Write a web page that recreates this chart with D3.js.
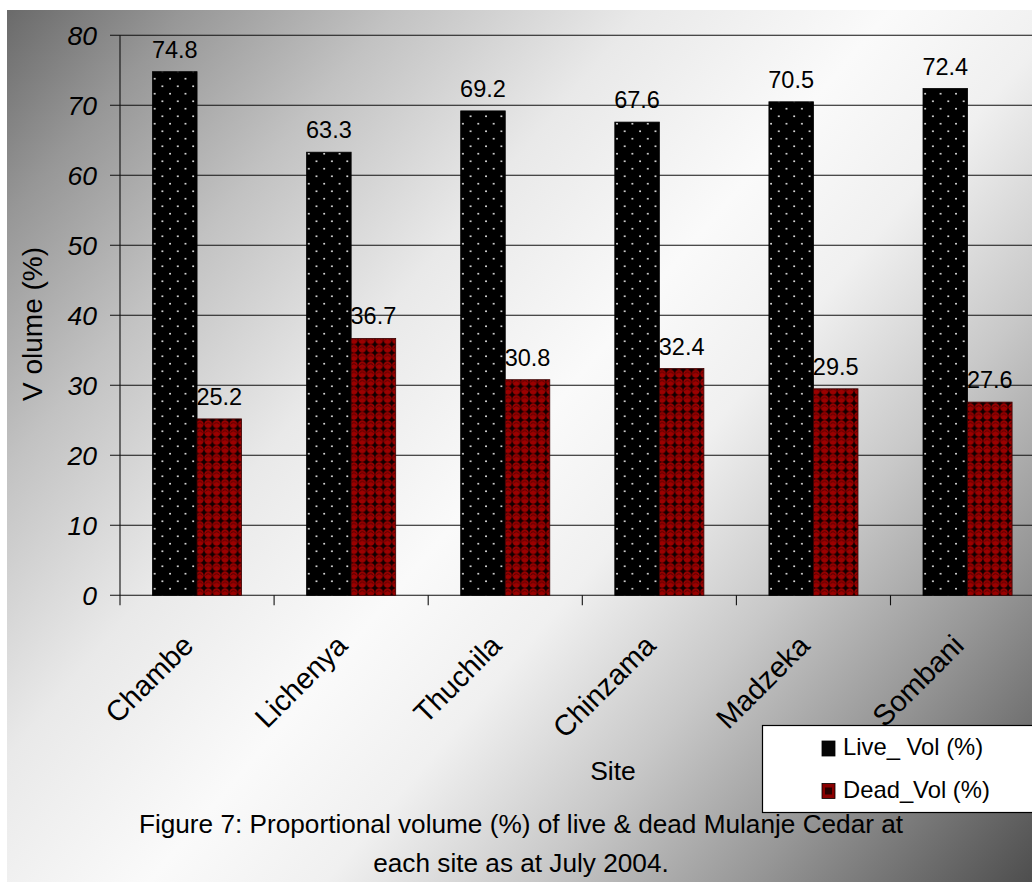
<!DOCTYPE html>
<html>
<head>
<meta charset="utf-8">
<script src="https://cdn.jsdelivr.net/npm/d3@7"></script>
<style>
  html, body { margin: 0; padding: 0; background: #fff; overflow: hidden; }
  svg { display: block; }
</style>
</head>
<body>
<svg id="chart" width="1032" height="882"></svg>
<script>
// Proportional volume (%) of live and dead Mulanje Cedar per site, July 2004
const sites = ["Chambe", "Lichenya", "Thuchila", "Chinzama", "Madzeka", "Sombani"];
const liveVol = [74.8, 63.3, 69.2, 67.6, 70.5, 72.4];
const deadVol = [25.2, 36.7, 30.8, 32.4, 29.5, 27.6];
const seriesKeys = ["live", "dead"];
const seriesNames = ["Live_ Vol (%)", "Dead_Vol (%)"];
const yTicks = [0, 10, 20, 30, 40, 50, 60, 70, 80];
const yTitle = "V olume (%)";
const xTitle = "Site";
const captionLines = [
  "Figure 7: Proportional volume (%) of live & dead Mulanje Cedar at",
  "each site as at July 2004."
];

const rows = sites.map((s, i) => ({ site: s, live: liveVol[i], dead: deadVol[i] }));

const W = 1032, H = 882;
const FONT = "'Liberation Sans', Arial, sans-serif";
const svg = d3.select("#chart");
const defs = svg.append("defs");

// Diagonal grey-white-grey background
const bg = defs.append("linearGradient")
  .attr("id", "bgGrad")
  .attr("gradientUnits", "userSpaceOnUse")
  .attr("x1", 7).attr("y1", 10).attr("x2", W).attr("y2", H);
[[0, "#6a6a6a"], [0.1, "#979797"], [0.22, "#c2c2c2"], [0.36, "#e9e9e9"],
 [0.5, "#fafafa"], [0.6, "#f0f0f0"], [0.72, "#c8c8c8"], [0.84, "#979797"], [1, "#4e4e4e"]]
  .forEach(([o, c]) => bg.append("stop").attr("offset", o).attr("stop-color", c));

svg.append("rect")
  .attr("x", 7).attr("y", 10).attr("width", W - 7).attr("height", H - 10)
  .attr("fill", "url(#bgGrad)");

// Black bars with staggered white dots
const pLive = defs.append("pattern")
  .attr("id", "patLive").attr("patternUnits", "userSpaceOnUse")
  .attr("width", 15.4).attr("height", 15);
pLive.append("rect").attr("width", 15.4).attr("height", 15).attr("fill", "#000");
pLive.append("circle").attr("cx", 3.9).attr("cy", 3.7).attr("r", 0.95).attr("fill", "#e6e6e6");
pLive.append("circle").attr("cx", 11.6).attr("cy", 11.2).attr("r", 0.95).attr("fill", "#e6e6e6");

// Dark red bars with a sphere / checker texture
const pDead = defs.append("pattern")
  .attr("id", "patDead").attr("patternUnits", "userSpaceOnUse")
  .attr("width", 8.4).attr("height", 8.4);
pDead.append("rect").attr("width", 8.4).attr("height", 8.4).attr("fill", "#120000");
pDead.append("circle").attr("cx", 4.2).attr("cy", 4.2).attr("r", 3.9).attr("fill", "#9c0000");
pDead.append("path")
  .attr("d", "M1.5,4.4 A2.9,2.9 0 0 1 6.9,4.4")
  .attr("fill", "none").attr("stroke", "#4a0000").attr("stroke-width", 0.9);

const fills = { live: "url(#patLive)", dead: "url(#patDead)" };
const swatch = { live: "#050505", dead: "#8a0000" };

// Scales
const step = 154.1;
const x0 = d3.scaleBand().domain(sites).range([120, 120 + step * sites.length]).padding(0);
const x1 = d3.scaleBand().domain(seriesKeys).range([0, x0.bandwidth()])
  .paddingInner(0).paddingOuter(0.73);
const y = d3.scaleLinear().domain([0, 80]).range([595.3, 35.3]);

const plot = svg.append("g");

// Horizontal gridlines with left tick marks
plot.selectAll("line.grid").data(yTicks).join("line")
  .attr("class", "grid")
  .attr("x1", 110).attr("x2", W + 20)
  .attr("y1", d => y(d)).attr("y2", d => y(d))
  .attr("stroke", "#111").attr("stroke-width", 1.1);

// Y tick labels (italic)
plot.selectAll("text.ytick").data(yTicks).join("text")
  .attr("class", "ytick")
  .attr("x", 97).attr("y", d => y(d) + 9.5)
  .attr("text-anchor", "end")
  .attr("font-family", FONT).attr("font-style", "italic").attr("font-size", 26.5)
  .attr("fill", "#000")
  .text(d => d);

// Bars
const groups = plot.selectAll("g.site").data(rows).join("g")
  .attr("class", "site")
  .attr("transform", d => `translate(${x0(d.site)},0)`);

groups.selectAll("rect").data(d => seriesKeys.map(k => ({ key: k, value: d[k] }))).join("rect")
  .attr("x", d => x1(d.key))
  .attr("width", x1.bandwidth())
  .attr("y", d => y(d.value))
  .attr("height", d => y(0) - y(d.value))
  .attr("fill", d => fills[d.key])
  .attr("stroke", d => d.key === "live" ? "#000" : "#3a0000")
  .attr("stroke-width", 0.8);

// Value labels
groups.selectAll("text.val").data(d => seriesKeys.map(k => ({ key: k, value: d[k] }))).join("text")
  .attr("class", "val")
  .attr("x", d => x1(d.key) + x1.bandwidth() / 2)
  .attr("y", d => y(d.value) - 14)
  .attr("text-anchor", "middle")
  .attr("font-family", FONT).attr("font-size", 23.5)
  .attr("fill", "#000")
  .text(d => d.value.toFixed(1));

// Axes lines
plot.append("line")
  .attr("x1", 120).attr("x2", 120).attr("y1", y(80)).attr("y2", y(0) + 10)
  .attr("stroke", "#111").attr("stroke-width", 1.1);

const boundaries = sites.map(s => x0(s));
plot.selectAll("line.xtick").data(boundaries.slice(1)).join("line")
  .attr("class", "xtick")
  .attr("x1", d => d).attr("x2", d => d)
  .attr("y1", y(0)).attr("y2", y(0) + 10)
  .attr("stroke", "#111").attr("stroke-width", 1.1);

// Category labels, rotated
plot.selectAll("text.xcat").data(sites).join("text")
  .attr("class", "xcat")
  .attr("transform", d => `translate(${x0(d) + x0.bandwidth() / 2 - 2},${y(0) + 52}) rotate(-45)`)
  .attr("text-anchor", "end")
  .attr("font-family", FONT).attr("font-size", 29)
  .attr("fill", "#000")
  .text(d => d);

// Axis titles
svg.append("text")
  .attr("transform", `translate(42,324) rotate(-90)`)
  .attr("text-anchor", "middle")
  .attr("font-family", FONT).attr("font-size", 28)
  .attr("fill", "#000")
  .text(yTitle);

svg.append("text")
  .attr("x", 613).attr("y", 780)
  .attr("text-anchor", "middle")
  .attr("font-family", FONT).attr("font-size", 26.5)
  .attr("fill", "#000")
  .text(xTitle);

// Legend
const lg = svg.append("g");
lg.append("rect")
  .attr("x", 762.5).attr("y", 725.5).attr("width", 300).attr("height", 87)
  .attr("fill", "#fff").attr("stroke", "#000").attr("stroke-width", 1.2);
seriesKeys.forEach((k, i) => {
  const yy = 741 + i * 42.5;
  lg.append("rect")
    .attr("x", 822).attr("y", yy).attr("width", 13).attr("height", 15)
    .attr("fill", swatch[k]).attr("stroke", "#000").attr("stroke-width", 0.8);
  if (k === "dead") {
    lg.append("rect").attr("x", 825).attr("y", yy + 4).attr("width", 7).attr("height", 7)
      .attr("fill", "#2a0000");
  }
  lg.append("text")
    .attr("x", 843).attr("y", yy + 14)
    .attr("font-family", FONT).attr("font-size", 23.8)
    .attr("fill", "#000")
    .text(seriesNames[i]);
});

// Caption
svg.selectAll("text.caption").data(captionLines).join("text")
  .attr("class", "caption")
  .attr("x", 521).attr("y", (d, i) => 833 + i * 39)
  .attr("text-anchor", "middle")
  .attr("font-family", FONT).attr("font-size", 26.2)
  .attr("fill", "#000")
  .text(d => d);
</script>
</body>
</html>
